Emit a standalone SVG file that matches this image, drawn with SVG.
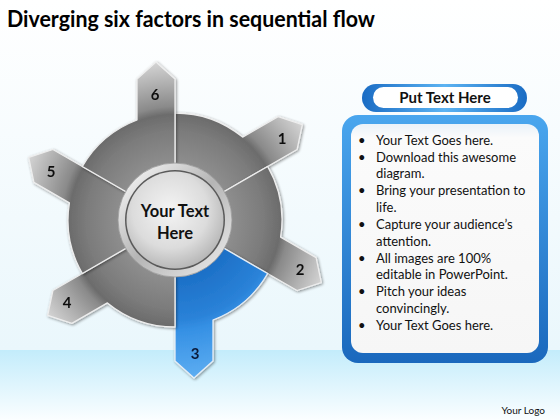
<svg xmlns="http://www.w3.org/2000/svg" width="560" height="420" viewBox="0 0 560 420">
<defs>
<linearGradient id="bgTop" x1="0" y1="0" x2="0" y2="1">
<stop offset="0" stop-color="#ffffff"/>
<stop offset="1" stop-color="#eaf7fc"/>
</linearGradient>
<linearGradient id="bgBand" x1="0" y1="0" x2="0" y2="1">
<stop offset="0" stop-color="#c3ecfb"/>
<stop offset="1" stop-color="#fbfeff"/>
</linearGradient>
<radialGradient id="gray" gradientUnits="userSpaceOnUse" cx="175" cy="220" r="160">
<stop offset="0.35" stop-color="#8e8e8e"/>
<stop offset="0.55" stop-color="#7c7c7c"/>
<stop offset="0.66" stop-color="#6c6c6c"/>
<stop offset="0.71" stop-color="#8a8a8a"/>
<stop offset="1" stop-color="#d6d6d6"/>
</radialGradient>
<radialGradient id="blue" gradientUnits="userSpaceOnUse" cx="175" cy="220" r="160">
<stop offset="0.35" stop-color="#1c6fc6"/>
<stop offset="0.62" stop-color="#2a82d8"/>
<stop offset="0.69" stop-color="#3590e4"/>
<stop offset="1" stop-color="#5eaef2"/>
</radialGradient>
<linearGradient id="ring" x1="0" y1="0" x2="1" y2="1">
<stop offset="0" stop-color="#ffffff"/>
<stop offset="0.5" stop-color="#b5b5b5"/>
<stop offset="1" stop-color="#f0f0f0"/>
</linearGradient>
<radialGradient id="disk" cx="0.45" cy="0.4" r="0.65">
<stop offset="0" stop-color="#f4f4f4"/>
<stop offset="0.6" stop-color="#dcdcdc"/>
<stop offset="1" stop-color="#b0b0b0"/>
</radialGradient>
<linearGradient id="boxBlue" x1="0" y1="0" x2="0" y2="1">
<stop offset="0" stop-color="#4aa6ee"/>
<stop offset="1" stop-color="#1a68bd"/>
</linearGradient>
<linearGradient id="pillBlue" x1="0" y1="0" x2="1" y2="0">
<stop offset="0" stop-color="#1a6cc4"/>
<stop offset="0.5" stop-color="#5cb3f2"/>
<stop offset="1" stop-color="#1a6cc4"/>
</linearGradient>
<linearGradient id="inner" x1="0" y1="0" x2="0" y2="1">
<stop offset="0" stop-color="#eaf2f9"/>
<stop offset="0.06" stop-color="#fbfbfb"/>
<stop offset="1" stop-color="#f6f6f6"/>
</linearGradient>
<filter id="shadow" x="-10%" y="-10%" width="120%" height="120%">
<feGaussianBlur in="SourceAlpha" stdDeviation="1.5"/>
<feOffset dx="0.5" dy="1" result="b"/>
<feComponentTransfer><feFuncA type="linear" slope="0.45"/></feComponentTransfer>
<feMerge><feMergeNode/><feMergeNode in="SourceGraphic"/></feMerge>
</filter>
</defs>
<style>
.seg{fill:url(#gray);stroke:#eeeeee;stroke-width:1.3;stroke-linejoin:round}
.segb{fill:url(#blue);stroke:#e6eef6;stroke-width:1.3;stroke-linejoin:round}
.num{font-family:Lato,"Liberation Sans",sans-serif;font-weight:bold;font-size:15px;fill:#111111;text-anchor:middle}
.ctr{font-family:Lato,"Liberation Sans",sans-serif;font-weight:bold;font-size:16.5px;fill:#111111;text-anchor:middle}
.bul{font-family:Lato,"Liberation Sans",sans-serif;font-size:13px;fill:#111111}
</style>
<rect x="0" y="0" width="560" height="350" fill="url(#bgTop)"/>
<rect x="0" y="350" width="560" height="70" fill="url(#bgBand)"/>
<text x="7" y="27" font-family="Lato,'Liberation Sans',sans-serif" font-weight="bold" font-size="22" fill="#000000" textLength="368" lengthAdjust="spacingAndGlyphs">Diverging six factors in sequential flow</text>
<g id="connectors"/>
<g id="seg1" filter="url(#shadow)">
<path class="seg" d="M175,220 L297.11,149.5 L302.33,124.55 L278.11,116.59 L242.6,137.09 A107,107 0 0 0 175,113 Z"/>
<text class="num" x="282" y="144">1</text>
</g>
<g id="seg2" filter="url(#shadow)">
<path class="seg" d="M175,220 L297.11,290.5 L321.33,282.55 L316.11,257.59 L280.6,237.09 A107,107 0 0 0 267.66,166.5 Z"/>
<text class="num" x="300" y="275">2</text>
</g>
<g id="seg3" filter="url(#shadow)">
<path class="segb" d="M175,220 L175,361 L194,378 L213,361 L213,320 A107,107 0 0 0 267.66,273.5 Z"/>
<text class="num" x="195" y="359" style="fill:#0b1a3a">3</text>
</g>
<g id="seg4" filter="url(#shadow)">
<path class="seg" d="M175,220 L52.89,290.5 L47.67,315.45 L71.89,323.41 L107.4,302.91 A107,107 0 0 0 175,327 Z"/>
<text class="num" x="67" y="308">4</text>
</g>
<g id="seg5" filter="url(#shadow)">
<path class="seg" d="M175,220 L52.89,149.5 L28.67,157.45 L33.89,182.41 L69.4,202.91 A107,107 0 0 0 82.34,273.5 Z"/>
<text class="num" x="51" y="177">5</text>
</g>
<g id="seg6" filter="url(#shadow)">
<path class="seg" d="M175,220 L175,79 L156,62 L137,79 L137,120 A107,107 0 0 0 82.34,166.5 Z"/>
<text class="num" x="155" y="100">6</text>
</g>
<g id="center">
<circle cx="175" cy="220" r="57" fill="url(#ring)" stroke="#9a9a9a" stroke-width="0.8"/>
<circle cx="175" cy="220" r="50" fill="#5a5a5a"/>
<circle cx="175" cy="220" r="48.5" fill="url(#disk)"/>
<text class="ctr" x="175" y="217">Your Text</text>
<text class="ctr" x="175" y="239">Here</text>
</g>
<g id="title-pill">
<rect x="362" y="84" width="165" height="28" rx="14" fill="url(#pillBlue)"/>
<rect x="373" y="87" width="145" height="21" rx="10.5" fill="#ffffff"/>
<text x="445" y="103" text-anchor="middle" font-family="Lato,'Liberation Sans',sans-serif" font-weight="bold" font-size="15" fill="#111111">Put Text Here</text>
</g>
<g id="text-box">
<rect x="342" y="115" width="206" height="248" rx="16" fill="url(#boxBlue)"/>
<rect x="351" y="124" width="188" height="229" rx="12" fill="url(#inner)"/>
<g class="bul">
<text x="358" y="145">•</text><text x="376" y="145">Your Text Goes here.</text>
<text x="358" y="162">•</text><text x="376" y="162">Download this awesome</text>
<text x="376" y="178">diagram.</text>
<text x="358" y="195">•</text><text x="376" y="195">Bring your presentation to</text>
<text x="376" y="212">life.</text>
<text x="358" y="229">•</text><text x="376" y="229">Capture your audience’s</text>
<text x="376" y="246">attention.</text>
<text x="358" y="263">•</text><text x="376" y="263">All images are 100%</text>
<text x="376" y="279">editable in PowerPoint.</text>
<text x="358" y="296">•</text><text x="376" y="296">Pitch your ideas</text>
<text x="376" y="313">convincingly.</text>
<text x="358" y="330">•</text><text x="376" y="330">Your Text Goes here.</text>
</g>
</g>
<text x="545" y="414" text-anchor="end" font-family="Lato,'Liberation Sans',sans-serif" font-size="10" fill="#111111">Your Logo</text>
</svg>
